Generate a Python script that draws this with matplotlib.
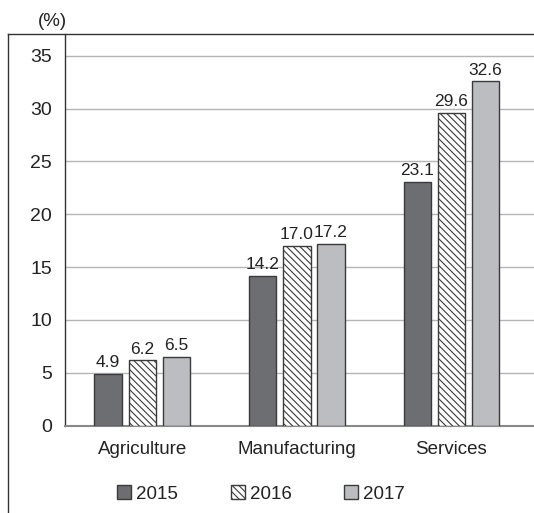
import matplotlib
matplotlib.use("Agg")
import matplotlib.pyplot as plt
from matplotlib.patches import Patch
from matplotlib.lines import Line2D
import numpy as np

categories = ["Agriculture", "Manufacturing", "Services"]
years = ["2015", "2016", "2017"]
v2015 = [4.9, 14.2, 23.1]
v2016 = [6.2, 17.0, 29.6]
v2017 = [6.5, 17.2, 32.6]
yticks = [0, 5, 10, 15, 20, 25, 30, 35]

plt.rcParams['font.family'] = ['Liberation Sans', 'DejaVu Sans']
plt.rcParams['hatch.linewidth'] = 0.8
plt.rcParams['hatch.color'] = '#333333'

W, H = 534, 513
fig = plt.figure(figsize=(W / 100, H / 100), dpi=100)
left, right, top, bottom = 65, 534, 34, 425.5
ax = fig.add_axes([left / W, 1 - bottom / H, (right - left) / W, (bottom - top) / H])

x = np.arange(len(categories))
bw = 0.177
off = 0.221
edge = '#3a3a3a'
series = [
    (v2015, dict(facecolor='#6d6e71', edgecolor=edge)),
    (v2016, dict(facecolor='white', edgecolor=edge, hatch='\\' * 5)),
    (v2017, dict(facecolor='#bcbdc0', edgecolor=edge)),
]
handles = []
for i, (vals, kw) in enumerate(series):
    bars = ax.bar(x + (i - 1) * off, vals, bw, linewidth=1.0, zorder=3, **kw)
    for b, v in zip(bars, vals):
        ax.annotate(f"{v:.1f}", (b.get_x() + b.get_width() / 2, v),
                    xytext=(0, 2.5), textcoords='offset points',
                    ha='center', va='bottom', fontsize=12.5, color='#222222')
    handles.append(Patch(label=years[i], linewidth=1.0, **kw))

ax.set_xlim(-0.5, 2.534)
ax.set_ylim(0, 37.07)
ax.set_yticks(yticks)
ax.set_xticks(x)
ax.set_xticklabels(categories)
ax.tick_params(axis='both', length=0, colors='#222222')
ax.tick_params(axis='y', pad=9.5, labelsize=14)
ax.tick_params(axis='x', pad=11, labelsize=13.5)
ax.yaxis.grid(True, color='#b5b5b5', linewidth=1.0, zorder=0)
ax.set_axisbelow(True)
for s in ['top', 'right']:
    ax.spines[s].set_visible(False)
ax.spines['left'].set_color('#333333')
ax.spines['left'].set_linewidth(1.0)
ax.spines['bottom'].set_color('#888888')
ax.spines['bottom'].set_linewidth(1.5)

fig.text(52 / W, 1 - 21 / H, "(%)", ha='center', va='center', fontsize=13.5, color='#222222')

fig.add_artist(Line2D([8 / W, 8 / W], [0, 1 - 34 / H], color='#333333', linewidth=1.0))
fig.add_artist(Line2D([8 / W, 1], [1 - 34 / H, 1 - 34 / H], color='#333333', linewidth=1.0))

fig.legend(handles=handles, loc='center', bbox_to_anchor=(261 / W, 1 - 494 / H),
           ncol=3, frameon=False, fontsize=13.5, handlelength=0.75, handleheight=0.75,
           handletextpad=0.27, columnspacing=2.8, borderpad=0, labelcolor='#222222')

fig.savefig("out.png", dpi=100)
